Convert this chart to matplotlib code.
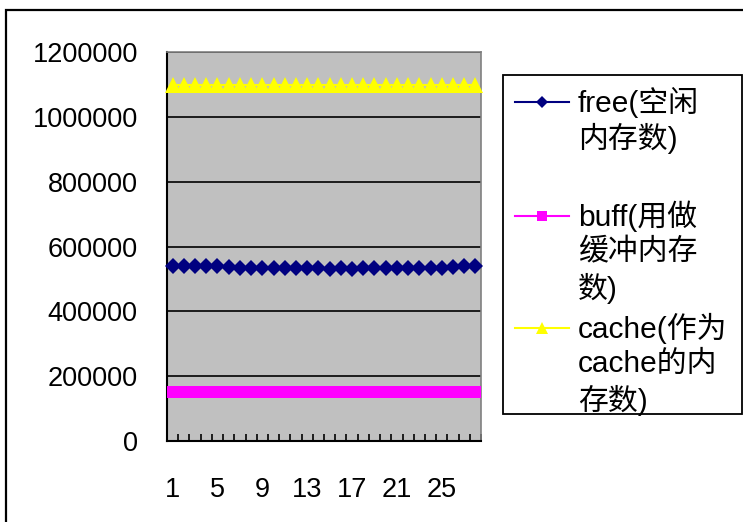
import matplotlib
matplotlib.use('Agg')
import matplotlib.pyplot as plt
from matplotlib.lines import Line2D
from matplotlib.patches import Rectangle

# data (28 samples)
samples = list(range(1, 29))
free = [541000, 541000, 540000, 541000, 540000, 538000, 534000, 533000, 533000, 533000,
        533000, 533000, 533000, 533000, 532000, 533000, 532000, 533000, 533000, 533000,
        533000, 533000, 533000, 534000, 534000, 536000, 539000, 539000]
buff = [150000] * 28
cache = [1098000] * 28

series_names = ['free(空闲\n内存数)', 'buff(用做\n缓冲内存\n数)', 'cache(作为\ncache的内\n存数)']
series_colors = ['#000080', '#FF00FF', '#FFFF00']
series_markers = ['D', 's', '^']
series_msize = [8.2, 8.5, 11]
legend_msize = [6, 6.5, 8.5]
yticks = [0, 200000, 400000, 600000, 800000, 1000000, 1200000]
xlabels = [1, 5, 9, 13, 17, 21, 25]

W, H = 743, 522
fonts = ['Liberation Sans', 'Noto Sans CJK SC', 'DejaVu Sans']
plt.rcParams['font.family'] = fonts

fig = plt.figure(figsize=(W / 100, H / 100), dpi=100)

# outer chart frame
fig.add_artist(Rectangle((6 / W, -0.1), 1.2, 1 - 9.5 / H + 0.1, transform=fig.transFigure,
                         fill=False, edgecolor='black', linewidth=1.6))

ax = fig.add_axes([167 / W, 1 - 441 / H, 314 / W, 389 / H])
ax.set_facecolor('#C0C0C0')

for vals, c, m, ms in zip([free, buff, cache], series_colors, series_markers, series_msize):
    ax.plot(samples, vals, color=c, marker=m, markersize=ms, markeredgewidth=0,
            linewidth=1.5, clip_on=False, zorder=3)

ax.set_xlim(0.5, 28.5)
ax.set_ylim(0, 1200000)
ax.set_yticks(yticks)
ax.set_yticklabels([str(v) for v in yticks])
ax.set_xticks(xlabels)
ax.set_xticklabels([str(v) for v in xlabels])
ax.set_xticks([i + 0.5 for i in range(0, 29)], minor=True)
ax.tick_params(axis='x', which='major', length=0, pad=26, labelsize=19.5)
ax.tick_params(axis='x', which='minor', direction='in', length=5, width=1.2, color='black')
ax.tick_params(axis='y', direction='in', length=0, pad=21, labelsize=19.5)
ax.grid(axis='y', color='black', linewidth=1.2)
ax.set_axisbelow(True)
for s in ['left', 'bottom']:
    ax.spines[s].set_color('black')
    ax.spines[s].set_linewidth(1.5)
for s in ['top', 'right']:
    ax.spines[s].set_color('#808080')
    ax.spines[s].set_linewidth(1.2)

# legend drawn by hand so the marker lines up with the first text line
fig.add_artist(Rectangle((503 / W, 1 - 414 / H), 239 / W, 339 / H, transform=fig.transFigure,
                         facecolor='white', edgecolor='black', linewidth=1.3))
entry_y = [102, 216, 328]
line_step = 36
for name, c, m, ms, ey in zip(series_names, series_colors, series_markers, legend_msize, entry_y):
    fig.add_artist(Line2D([515 / W, 569 / W], [1 - ey / H, 1 - ey / H], transform=fig.transFigure,
                          color=c, linewidth=1.5))
    fig.add_artist(Line2D([542 / W], [1 - ey / H], transform=fig.transFigure, color=c,
                          marker=m, markersize=ms, markeredgewidth=0))
    for i, line in enumerate(name.split('\n')):
        fig.text(578 / W, 1 - (ey + i * line_step) / H, line, fontsize=21.5, family=fonts,
                 va='center', ha='left')

fig.savefig('out.png', dpi=100, facecolor='white')
